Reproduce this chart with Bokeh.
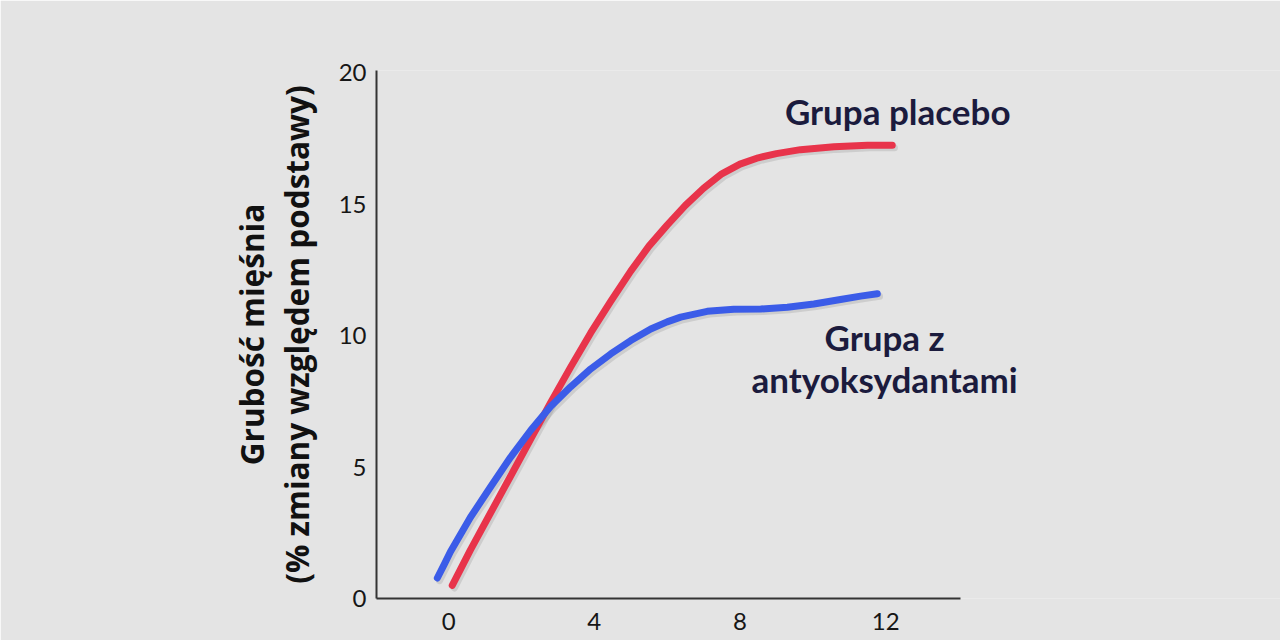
import numpy as np
from bokeh.plotting import figure
from bokeh.models import Label, FixedTicker, Range1d
from bokeh.embed import file_html
from bokeh.resources import INLINE

# Data (weeks vs % change in muscle thickness)
weeks_ticks = [0, 4, 8, 12]
y_ticks = [0, 5, 10, 15, 20]

placebo_x = [0.10, 0.6, 1.15, 1.70, 2.25, 2.80, 3.35, 3.90, 4.45, 5.0, 5.5, 6.0, 6.5, 7.0, 7.5, 8.0, 8.5, 9.0, 9.66, 10.58, 11.5, 12.18]
placebo_y = [0.5, 1.85, 3.25, 4.65, 6.05, 7.45, 8.8, 10.1, 11.3, 12.45, 13.4, 14.2, 14.95, 15.6, 16.15, 16.52, 16.76, 16.92, 17.07, 17.18, 17.24, 17.24]

antiox_x = [-0.31, -0.12, 0.05, 0.6, 1.15, 1.70, 2.25, 2.80, 3.35, 3.90, 4.45, 5.0, 5.55, 6.0, 6.37, 7.1, 7.83, 8.57, 9.3, 10.03, 10.76, 11.31, 11.77]
antiox_y = [0.78, 1.3, 1.78, 3.09, 4.24, 5.37, 6.39, 7.3, 8.05, 8.73, 9.3, 9.81, 10.25, 10.52, 10.7, 10.92, 11.0, 11.01, 11.08, 11.2, 11.37, 11.5, 11.59]

label_placebo = "Grupa placebo"
label_antiox = ["Grupa z", "antyoksydantami"]
ylabel_lines = ["Grubość mięśnia", "(% zmiany względem podstawy)"]

BG = "#e4e4e4"
RED = "#e8344b"
BLUE = "#3b5ce8"
NAVY = "#1b1b3d"

p = figure(width=1280, height=640, output_backend="svg", toolbar_location=None,
           x_range=Range1d(-1.98, 22.84), y_range=Range1d(0, 20.08),
           min_border_left=376, min_border_right=0, min_border_top=70, min_border_bottom=42)
p.background_fill_color = BG
p.border_fill_color = BG
p.outline_line_color = None
p.grid.visible = False

for ax in (p.xaxis, p.yaxis):
    ax.axis_line_color = "#333333"
    ax.axis_line_width = 2
    ax.major_tick_line_color = None
    ax.minor_tick_line_color = None
    ax.major_label_text_font = "Lato"
    ax.major_label_text_font_size = "24px"
    ax.major_label_text_color = "#161616"

p.xaxis.bounds = (-1.98, 14.06)
p.xaxis.ticker = FixedTicker(ticks=weeks_ticks)
p.yaxis.ticker = FixedTicker(ticks=y_ticks)
p.xaxis.major_label_standoff = 8
p.yaxis.major_label_standoff = 4

p.yaxis.axis_label = "\n".join(ylabel_lines)
p.yaxis.axis_label_text_font = "Open Sans"
p.yaxis.axis_label_text_font_style = "bold"
p.yaxis.axis_label_text_font_size = "31.5px"
p.yaxis.axis_label_text_color = "#111111"
p.yaxis.axis_label_text_line_height = 1.05
p.yaxis.axis_label_standoff = 18

# soft shadows
px = np.array(placebo_x); py = np.array(placebo_y)
ax_ = np.array(antiox_x); ay = np.array(antiox_y)
p.line(px + 0.06, py - 0.1, line_width=7, line_color="#555555", line_alpha=0.16, line_cap="round", line_join="round")
p.line(ax_ + 0.06, ay - 0.1, line_width=7, line_color="#555555", line_alpha=0.16, line_cap="round", line_join="round")

p.line(placebo_x, placebo_y, line_width=7, line_color=RED, line_cap="round", line_join="round")
p.line(antiox_x, antiox_y, line_width=7, line_color=BLUE, line_cap="round", line_join="round")

def lab(text, x, y, size):
    p.add_layout(Label(x=x, y=y, text=text, text_font="Lato", text_font_size=size,
                       text_font_style="bold", text_color=NAVY,
                       text_align="center", text_baseline="middle"))

lab(label_placebo, 12.33, 18.55, "35px")
lab(label_antiox[0], 11.97, 9.96, "35px")
lab(label_antiox[1], 11.97, 8.35, "35px")

open("out.html", "w").write(file_html(p, INLINE))
